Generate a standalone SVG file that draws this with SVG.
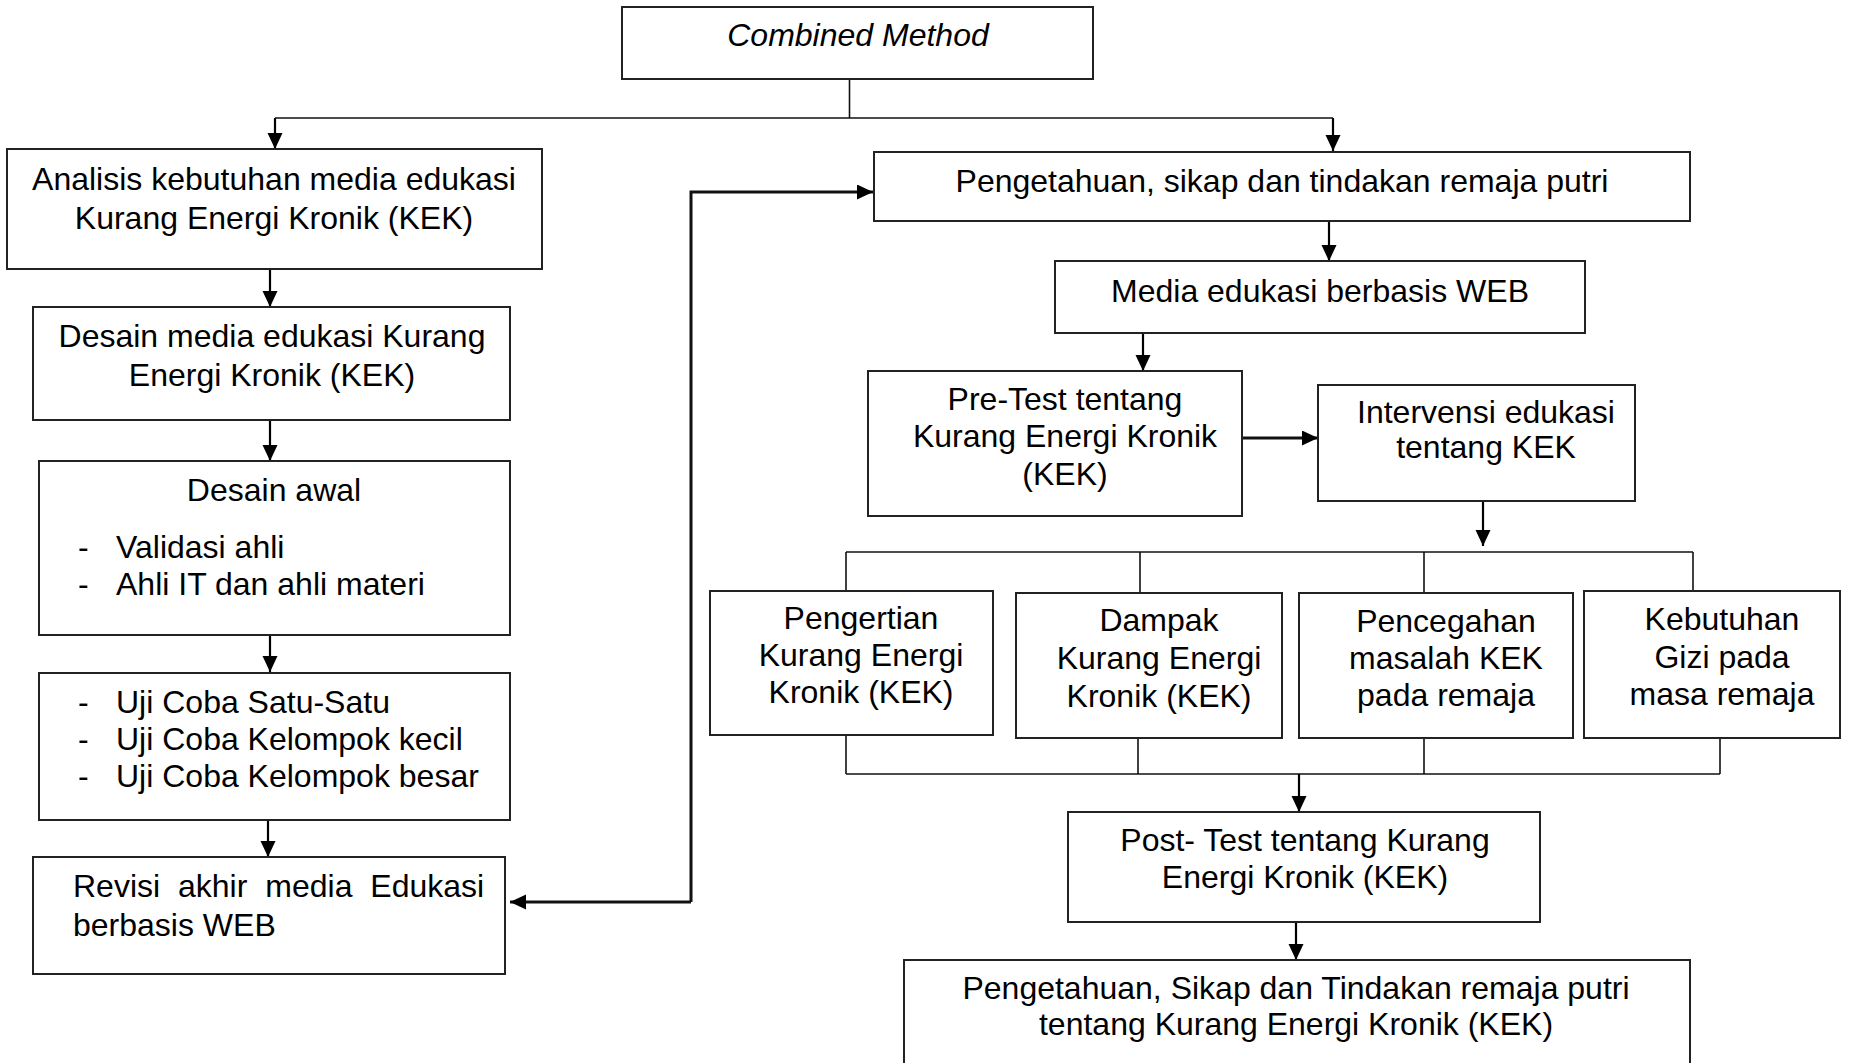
<svg xmlns="http://www.w3.org/2000/svg" width="1850" height="1063" viewBox="0 0 1850 1063">
<style>
.box{fill:#fff;stroke:#222;stroke-width:2}
.ln{fill:none;stroke:#111;stroke-width:1.6}
.ar{fill:none;stroke:#000;stroke-width:2.2}
.thk{fill:none;stroke:#111;stroke-width:3}
text{font-family:"Liberation Sans",Arial,sans-serif;font-size:32px;fill:#000}
.c{text-anchor:middle}
</style>
<defs>
<marker id="ah" markerUnits="userSpaceOnUse" markerWidth="17" markerHeight="16" refX="16" refY="7.5" orient="auto">
<path d="M0,0 L16,7.5 L0,15 z" fill="#000"/>
</marker>
</defs>
<rect width="1850" height="1063" fill="#fff"/>
<g id="connectors">
<path class="ln" d="M849.5,79 V118"/>
<path class="ln" d="M275,118 H1333"/>
<path class="ar" d="M275,118 V149" marker-end="url(#ah)"/>
<path class="ar" d="M1333,118 V151" marker-end="url(#ah)"/>
<path class="ar" d="M270,269 V307" marker-end="url(#ah)"/>
<path class="ar" d="M270,420 V461" marker-end="url(#ah)"/>
<path class="ar" d="M270,635 V672" marker-end="url(#ah)"/>
<path class="ar" d="M268,820 V857" marker-end="url(#ah)"/>
<path class="thk" d="M691,902 V192 H873" marker-end="url(#ah)"/>
<path class="thk" d="M691,902 H510" marker-end="url(#ah)"/>
<path class="ar" d="M1329,221 V261" marker-end="url(#ah)"/>
<path class="ar" d="M1143,333 V371" marker-end="url(#ah)"/>
<path class="thk" d="M1242,438 H1318" marker-end="url(#ah)"/>
<path class="ar" d="M1483,501 V546" marker-end="url(#ah)"/>
<path class="ln" d="M846,552 H1693"/>
<path class="ln" d="M846,552 V591"/>
<path class="ln" d="M1140,552 V593"/>
<path class="ln" d="M1424,552 V593"/>
<path class="ln" d="M1693,552 V591"/>
<path class="ln" d="M846,735 V774"/>
<path class="ln" d="M1138,738 V774"/>
<path class="ln" d="M1424,738 V774"/>
<path class="ln" d="M1720,738 V774"/>
<path class="ln" d="M846,774 H1720"/>
<path class="ar" d="M1299,774 V812" marker-end="url(#ah)"/>
<path class="ar" d="M1296,922 V960" marker-end="url(#ah)"/>
</g>
<g id="combined">
<rect class="box" x="622" y="7" width="471" height="72"/>
<text class="c" x="858" y="46" font-style="italic">Combined Method</text>
</g>
<g id="analisis">
<rect class="box" x="7" y="149" width="535" height="120"/>
<text class="c" x="274" y="190">Analisis kebutuhan media edukasi</text>
<text class="c" x="274" y="229">Kurang Energi Kronik (KEK)</text>
</g>
<g id="desain-media">
<rect class="box" x="33" y="307" width="477" height="113"/>
<text class="c" x="272" y="347">Desain media edukasi Kurang</text>
<text class="c" x="272" y="386">Energi Kronik (KEK)</text>
</g>
<g id="desain-awal">
<rect class="box" x="39" y="461" width="471" height="174"/>
<text class="c" x="274" y="501">Desain awal</text>
<text x="78" y="558">-</text>
<text x="116" y="558">Validasi ahli</text>
<text x="78" y="595">-</text>
<text x="116" y="595">Ahli IT dan ahli materi</text>
</g>
<g id="uji-coba">
<rect class="box" x="39" y="673" width="471" height="147"/>
<text x="78" y="713">-</text>
<text x="116" y="713">Uji Coba Satu-Satu</text>
<text x="78" y="750">-</text>
<text x="116" y="750">Uji Coba Kelompok kecil</text>
<text x="78" y="787">-</text>
<text x="116" y="787">Uji Coba Kelompok besar</text>
</g>
<g id="revisi">
<rect class="box" x="33" y="857" width="472" height="117"/>
<text x="73" y="897" word-spacing="9">Revisi akhir media Edukasi</text>
<text x="73" y="936">berbasis WEB</text>
</g>
<g id="pengetahuan">
<rect class="box" x="874" y="152" width="816" height="69"/>
<text class="c" x="1282" y="192">Pengetahuan, sikap dan tindakan remaja putri</text>
</g>
<g id="media-web">
<rect class="box" x="1055" y="261" width="530" height="72"/>
<text class="c" x="1320" y="302">Media edukasi berbasis WEB</text>
</g>
<g id="pretest">
<rect class="box" x="868" y="371" width="374" height="145"/>
<text class="c" x="1065" y="410">Pre-Test tentang</text>
<text class="c" x="1065" y="447">Kurang Energi Kronik</text>
<text class="c" x="1065" y="485">(KEK)</text>
</g>
<g id="intervensi">
<rect class="box" x="1318" y="385" width="317" height="116"/>
<text class="c" x="1486" y="423">Intervensi edukasi</text>
<text class="c" x="1486" y="458">tentang KEK</text>
</g>
<g id="pengertian">
<rect class="box" x="710" y="591" width="283" height="144"/>
<text class="c" x="861" y="629">Pengertian</text>
<text class="c" x="861" y="666">Kurang Energi</text>
<text class="c" x="861" y="703">Kronik (KEK)</text>
</g>
<g id="dampak">
<rect class="box" x="1016" y="593" width="266" height="145"/>
<text class="c" x="1159" y="631">Dampak</text>
<text class="c" x="1159" y="669">Kurang Energi</text>
<text class="c" x="1159" y="707">Kronik (KEK)</text>
</g>
<g id="pencegahan">
<rect class="box" x="1299" y="593" width="274" height="145"/>
<text class="c" x="1446" y="632">Pencegahan</text>
<text class="c" x="1446" y="669">masalah KEK</text>
<text class="c" x="1446" y="706">pada remaja</text>
</g>
<g id="kebutuhan">
<rect class="box" x="1584" y="591" width="256" height="147"/>
<text class="c" x="1722" y="630">Kebutuhan</text>
<text class="c" x="1722" y="668">Gizi pada</text>
<text class="c" x="1722" y="705">masa remaja</text>
</g>
<g id="posttest">
<rect class="box" x="1068" y="812" width="472" height="110"/>
<text class="c" x="1305" y="851">Post- Test tentang Kurang</text>
<text class="c" x="1305" y="888">Energi Kronik (KEK)</text>
</g>
<g id="final">
<rect class="box" x="904" y="960" width="786" height="130"/>
<text class="c" x="1296" y="999">Pengetahuan, Sikap dan Tindakan remaja putri</text>
<text class="c" x="1296" y="1035">tentang Kurang Energi Kronik (KEK)</text>
</g>
</svg>
